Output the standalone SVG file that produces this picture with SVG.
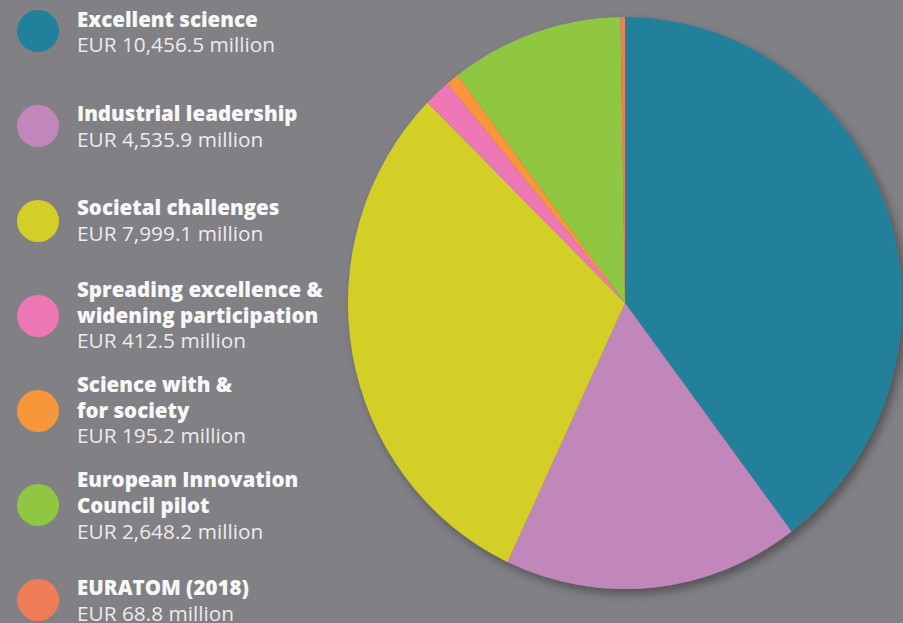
<svg xmlns="http://www.w3.org/2000/svg" width="903" height="623" viewBox="0 0 903 623">
  <defs>
    <style>
      .h { font-family: "Open Sans", "Liberation Sans", sans-serif; font-weight: 800; font-size: 20.5px; fill: #f7f7f7; }
      .v { font-family: "Open Sans", "Liberation Sans", sans-serif; font-weight: 400; font-size: 20.8px; fill: #ececec; }
    </style>
    <filter id="sh" x="-10%" y="-10%" width="125%" height="125%">
      <feDropShadow dx="4" dy="5" stdDeviation="5" flood-color="#000" flood-opacity="0.35"/>
    </filter>
  </defs>
  <rect x="0" y="0" width="903" height="623" fill="#808085"/>

  <g id="pie" filter="url(#sh)">
    <path id="s-excellent" d="M625,303 L625,17 A277,286 0 0 1 791.56,531.51 Z" fill="#21809b"/>
    <path id="s-industrial" d="M625,303 L791.56,531.51 A277,286 0 0 1 507.55,562.03 Z" fill="#c187bb"/>
    <path id="s-societal" d="M625,303 L507.55,562.03 A277,286 0 0 1 427.50,102.49 Z" fill="#d4cf28"/>
    <path id="s-spreading" d="M625,303 L427.50,102.49 A277,286 0 0 1 447.55,83.38 Z" fill="#ee77b5"/>
    <path id="s-science" d="M625,303 L447.55,83.38 A277,286 0 0 1 457.66,75.09 Z" fill="#f7963b"/>
    <path id="s-eic" d="M625,303 L457.66,75.09 A277,286 0 0 1 620.45,17.04 Z" fill="#8fc642"/>
    <path id="s-euratom" d="M625,303 L620.45,17.04 A277,286 0 0 1 625,17 Z" fill="#ef7d58"/>
  </g>

  <g id="legend-excellent">
    <circle cx="38" cy="31" r="21" fill="#21809b"/>
    <text class="h" x="77" y="26.5">Excellent science</text>
    <text class="v" x="77" y="52">EUR 10,456.5 million</text>
  </g>
  <g id="legend-industrial">
    <circle cx="38" cy="126" r="21" fill="#c187bb"/>
    <text class="h" x="77" y="121">Industrial leadership</text>
    <text class="v" x="77" y="146.5">EUR 4,535.9 million</text>
  </g>
  <g id="legend-societal">
    <circle cx="38" cy="221" r="21" fill="#d4cf28"/>
    <text class="h" x="77" y="215">Societal challenges</text>
    <text class="v" x="77" y="240.5">EUR 7,999.1 million</text>
  </g>
  <g id="legend-spreading">
    <circle cx="38" cy="316" r="21" fill="#ee77b5"/>
    <text class="h" x="77" y="297">Spreading excellence &amp;</text>
    <text class="h" x="77" y="322.5">widening participation</text>
    <text class="v" x="77" y="348">EUR 412.5 million</text>
  </g>
  <g id="legend-science">
    <circle cx="38" cy="411" r="21" fill="#f7963b"/>
    <text class="h" x="77" y="392">Science with &amp;</text>
    <text class="h" x="77" y="417.5">for society</text>
    <text class="v" x="77" y="443">EUR 195.2 million</text>
  </g>
  <g id="legend-eic">
    <circle cx="38" cy="505" r="21" fill="#8fc642"/>
    <text class="h" x="77" y="487">European Innovation</text>
    <text class="h" x="77" y="512.5">Council pilot</text>
    <text class="v" x="77" y="538.5">EUR 2,648.2 million</text>
  </g>
  <g id="legend-euratom">
    <circle cx="38" cy="600" r="21" fill="#ef7d58"/>
    <text class="h" x="77" y="595">EURATOM (2018)</text>
    <text class="v" x="77" y="620.5">EUR 68.8 million</text>
  </g>
</svg>
